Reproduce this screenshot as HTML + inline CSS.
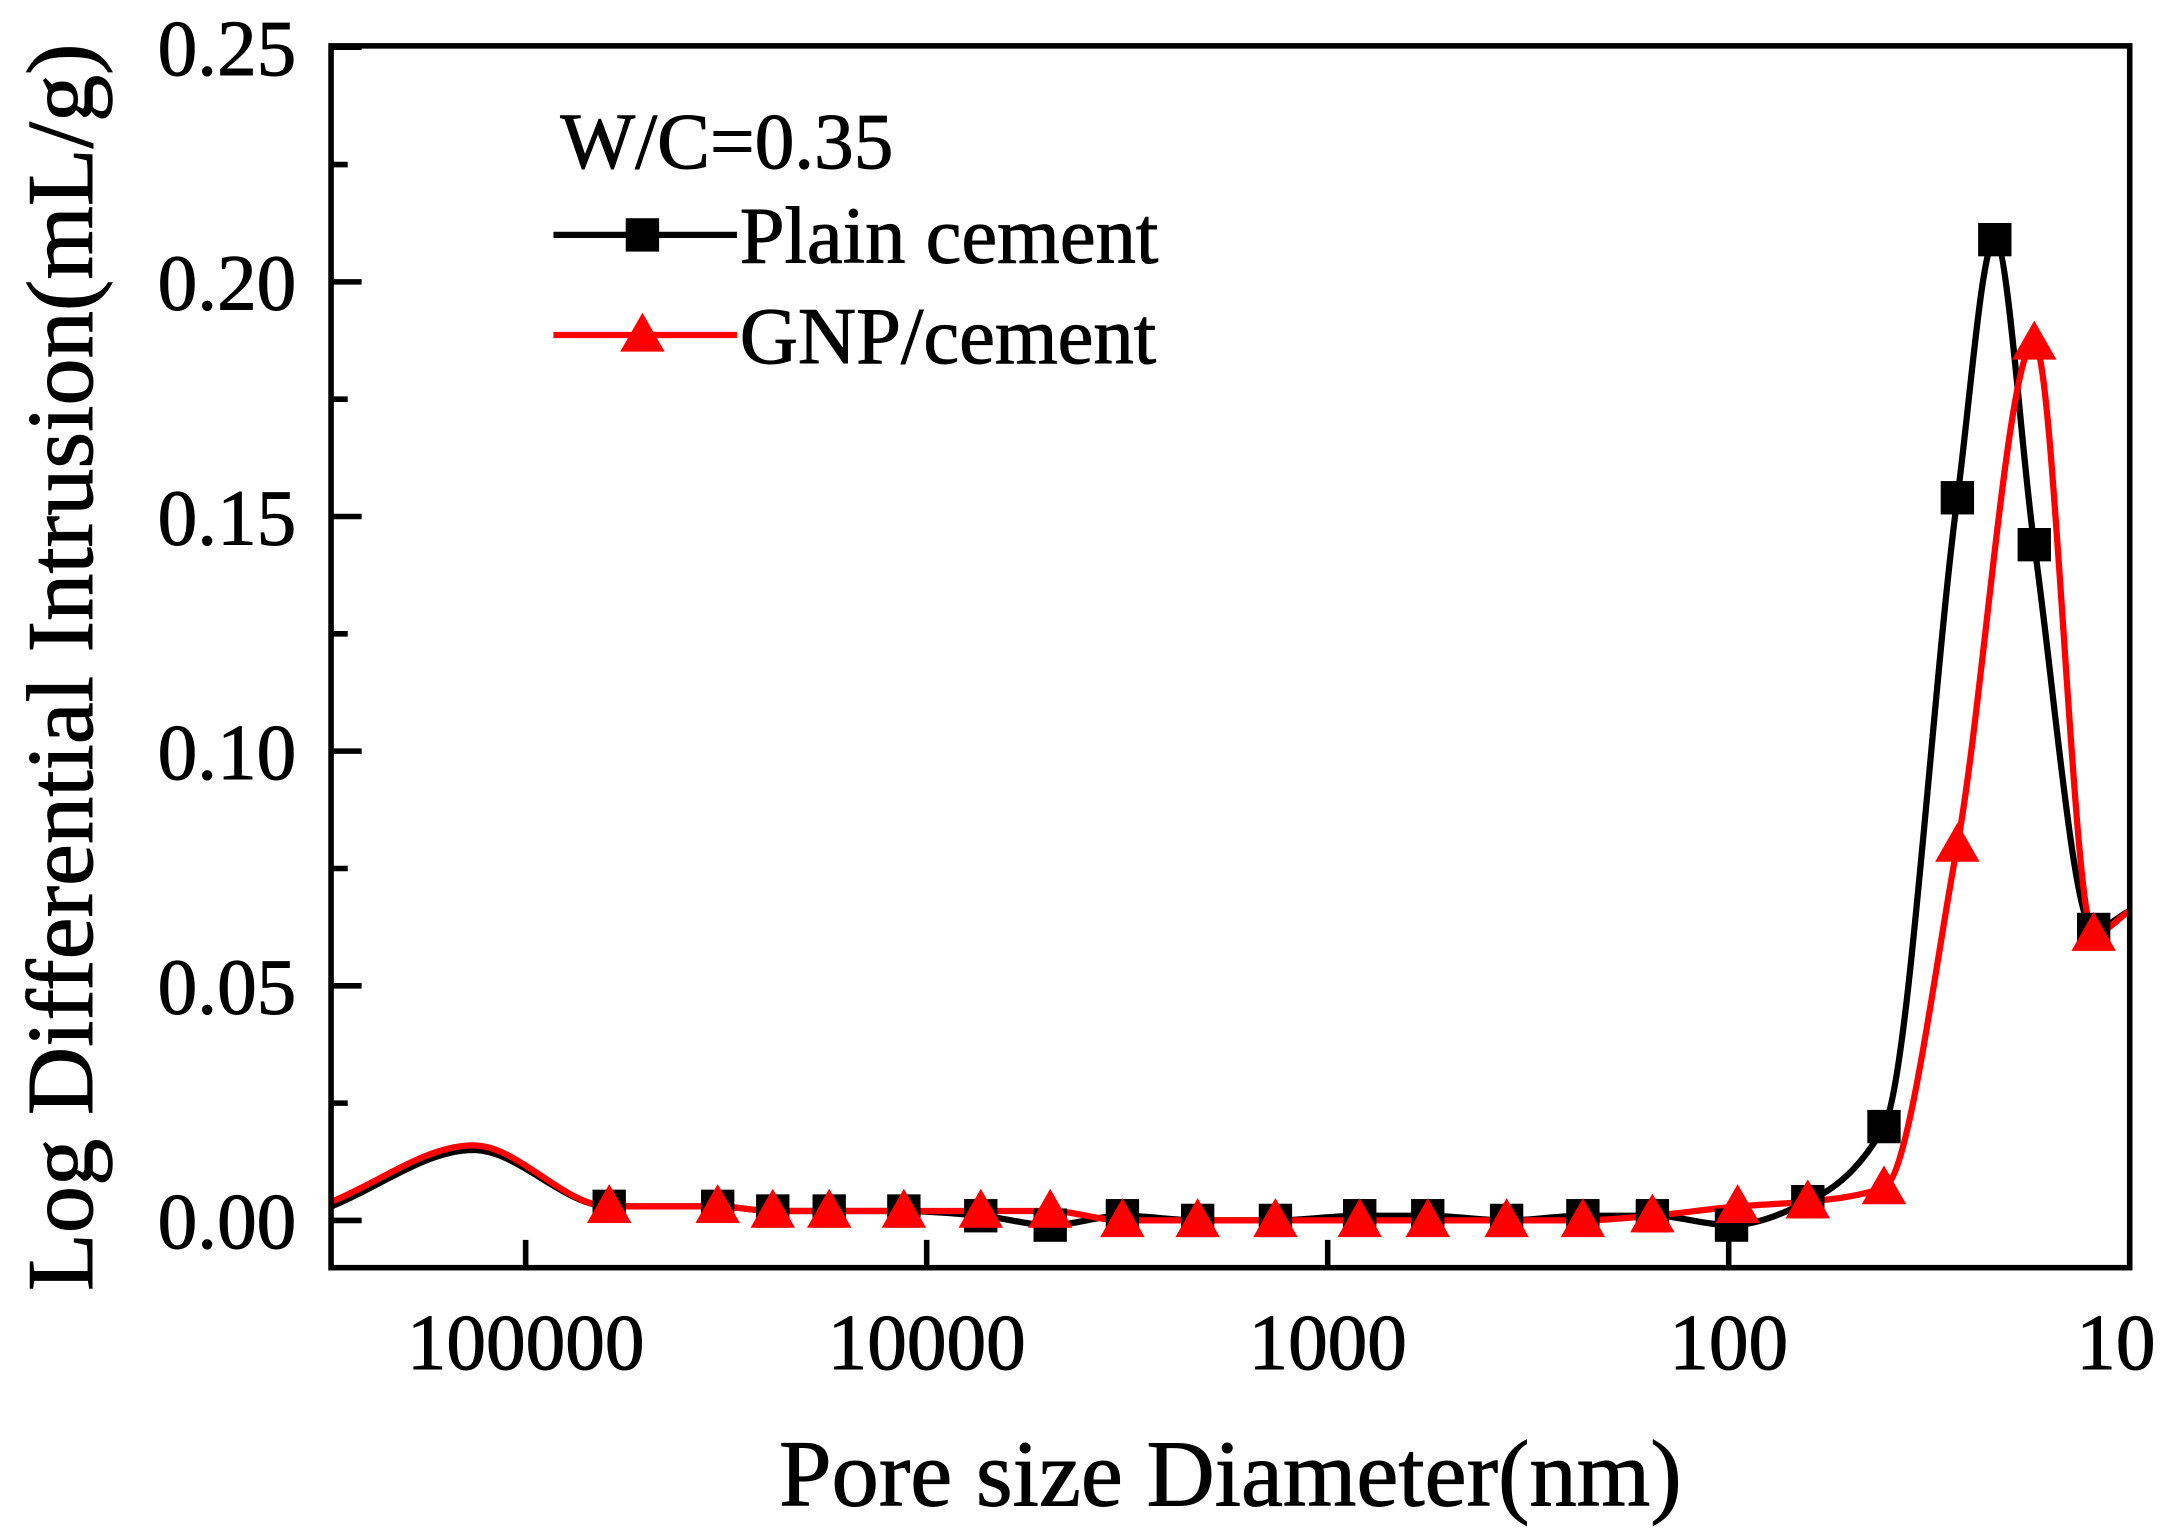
<!DOCTYPE html>
<html><head><meta charset="utf-8"><style>
html,body{margin:0;padding:0;background:#fff;}
svg{display:block;font-family:"Liberation Serif",serif;}
svg text{stroke:#000;stroke-width:0.7;}
</style></head><body>
<svg id="chart" width="2180" height="1529" viewBox="0 0 1568 1100" xmlns="http://www.w3.org/2000/svg">
<g id="marks"></g>
<rect x="238" y="33" width="1294" height="879" fill="none" stroke="#000" stroke-width="4"/>
<g id="axes"></g>
<text x="885" y="1083" font-size="68" text-anchor="middle">Pore size Diameter(nm)</text>
<text transform="translate(66,480) rotate(-90)" font-size="68" text-anchor="middle">Log Differential Intrusion(mL/g)</text>
<text x="403" y="121" font-size="57">W/C=0.35</text>
<g>
<g>
<line x1="398" y1="169" x2="530" y2="169" stroke="#000" stroke-width="4.5"/>
<rect x="450" y="157" width="24" height="24" fill="#000"/>
<text x="532" y="189" font-size="58">Plain cement</text></g>
<g>
<line x1="398" y1="241" x2="530" y2="241" stroke="#f00" stroke-width="4.5"/>
<polygon points="462,225 446,253 478,253" fill="#f00"/>
<text x="532" y="261" font-size="58">GNP/cement</text></g>
</g>
</svg>
<script>
const plainD=[305000,135000,61900,33200,24200,17500,11400,7330,4920,3250,2110,1350,832,563,358,231,155,98.4,63.5,41,26.9,21.7,17.3,12.3,10];
const plainV=[0.003,0.015,0.003,0.003,0.002,0.002,0.002,0.001,-0.001,0.001,0,0,0.001,0.001,0,0.001,0.001,-0.001,0.004,0.020,0.154,0.209,0.144,0.062,0.066];
const plainMarker=[0,0,1,1,1,1,1,1,1,1,1,1,1,1,1,1,1,1,1,1,1,1,1,1,0];
const gnpD=[305000,135000,61900,33200,24200,17500,11400,7330,4920,3250,2110,1350,832,563,358,231,155,95,63.5,41,26.9,17.3,12.3,10];
const gnpV=[0.004,0.016,0.003,0.003,0.002,0.002,0.002,0.002,0.002,0,0,0,0,0,0,0,0.001,0.003,0.004,0.007,0.080,0.187,0.061,0.066];
const gnpMarker=[0,0,1,1,1,1,1,1,1,1,1,1,1,1,1,1,1,1,1,1,1,1,1,0];
const yTicks=[0,0.05,0.10,0.15,0.20,0.25];
const yTickLabels=["0.00","0.05","0.10","0.15","0.20","0.25"];
const xTicks=[100000,10000,1000,100,10];
const xTickLabels=["100000","10000","1000","100","10"];

const NS="http://www.w3.org/2000/svg";
const L=238,R=1532,T=33,B=912;
function xs(d){return 378+(5-Math.log10(d))*288.5;}
function ys(v){return 878-v*3376;}
const marks=document.getElementById('marks'),axes=document.getElementById('axes');
function el(t,a,p){const e=document.createElementNS(NS,t);for(const k in a)e.setAttribute(k,a[k]);p.appendChild(e);return e;}

yTicks.forEach((v,i)=>{
 const y=ys(v);
 const t=el('line',{x1:L,x2:L+22,y1:y,y2:y,stroke:'#000','stroke-width':4},axes);
 
 
 if(i<yTicks.length-1){const ym=ys(v+0.025);
  const m=el('line',{x1:L,x2:L+12,y1:ym,y2:ym,stroke:'#000','stroke-width':4},axes);
  
  }
 const tx=el('text',{x:213,y:y+20,'font-size':57,'text-anchor':'end'},axes);
 tx.textContent=yTickLabels[i];
 
 
});
xTicks.forEach((d,i)=>{
 const x=xs(d);
 const t=el('line',{x1:x,x2:x,y1:B,y2:B-20,stroke:'#000','stroke-width':4},axes);
 
 
 const tx=el('text',{x:(i==xTicks.length-1?x-10:x),y:985,'font-size':57,'text-anchor':'middle'},axes);
 tx.textContent=xTickLabels[i];
 
 
});

function pathFor(D,V){
 const p=D.map((d,i)=>[xs(d),ys(V[i])]);
 const n=p.length,dl=[],m=[];
 for(let i=0;i<n-1;i++)dl.push((p[i+1][1]-p[i][1])/(p[i+1][0]-p[i][0]));
 for(let i=0;i<n;i++){
  if(i==0)m.push(dl[0]);else if(i==n-1)m.push(dl[n-2]);
  else if(dl[i-1]*dl[i]<=0)m.push(0);
  else{const h0=p[i][0]-p[i-1][0],h1=p[i+1][0]-p[i][0];
   const w1=2*h1+h0,w2=h1+2*h0;m.push((w1+w2)/(w1/dl[i-1]+w2/dl[i]));}
 }
 let s='M'+p[0][0]+','+p[0][1];
 for(let i=0;i<n-1;i++){
  const h=(p[i+1][0]-p[i][0])/3;
  s+=' C'+(p[i][0]+h)+','+(p[i][1]+m[i]*h)+' '+(p[i+1][0]-h)+','+(p[i+1][1]-m[i+1]*h)+' '+p[i+1][0]+','+p[i+1][1];
 }
 return s;
}
const clip=el('clipPath',{id:'pc'},el('defs',{},marks));
el('rect',{x:L,y:T,width:R-L,height:B-T},clip);
const g=el('g',{'clip-path':'url(#pc)'},marks);
const lp=el('path',{d:pathFor(plainD,plainV),fill:'none',stroke:'#000','stroke-width':4.5},g);


const lg=el('path',{d:pathFor(gnpD,gnpV),fill:'none',stroke:'#f00','stroke-width':4.5},g);


plainD.forEach((d,i)=>{if(!plainMarker[i])return;
 const x=xs(d),y=ys(plainV[i]);
 const r=el('rect',{x:x-12,y:y-12,width:24,height:24,fill:'#000'},marks);
 
 
});
gnpD.forEach((d,i)=>{if(!gnpMarker[i])return;
 const x=xs(d),y=ys(gnpV[i]);
 const t=el('polygon',{points:`${x},${y-16} ${x-16},${y+12} ${x+16},${y+12}`,fill:'#f00'},marks);
 
 
});
</script>
</body></html>
